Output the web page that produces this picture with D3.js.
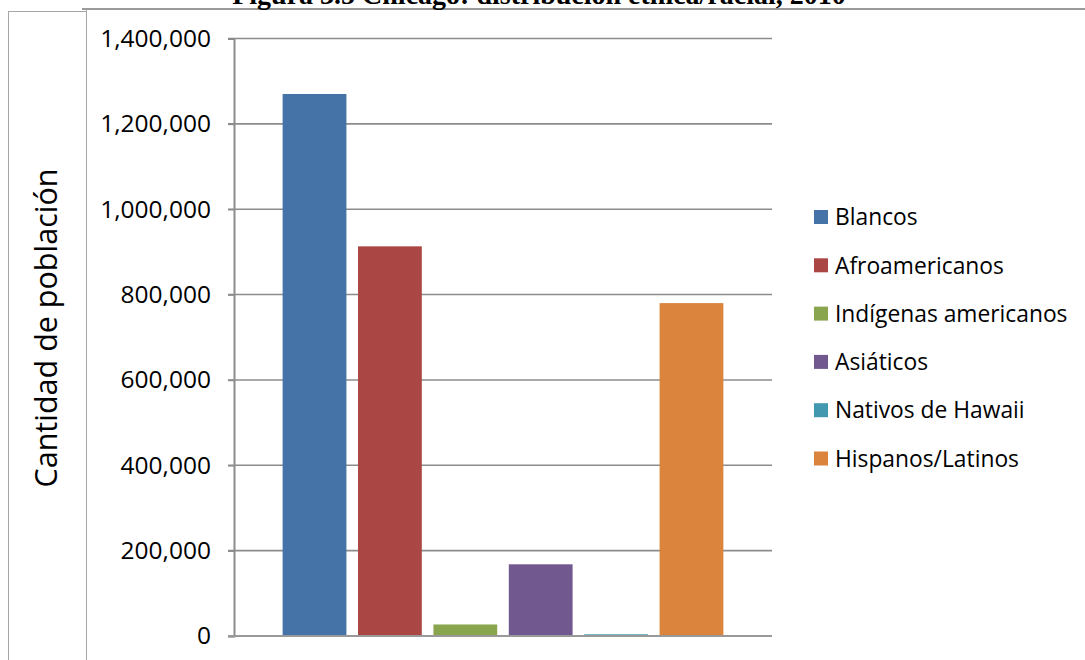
<!DOCTYPE html>
<html>
<head>
<meta charset="utf-8">
<script src="https://cdn.jsdelivr.net/npm/d3@7"></script>
<style>
  html, body { margin: 0; padding: 0; background: #fff; }
  svg { display: block; }
</style>
</head>
<body>
<svg id="chart" width="1085" height="660"></svg>
<script>
// Chicago population by ethnic/racial group, 2010
const categories = ["Blancos", "Afroamericanos", "Indígenas americanos", "Asiáticos", "Nativos de Hawaii", "Hispanos/Latinos"];
const values = [1270000, 913000, 27000, 168000, 4000, 780000];
const colors = ["#4572a7", "#aa4643", "#89a54e", "#71588f", "#4198af", "#db843d"];
const yTicks = [0, 200000, 400000, 600000, 800000, 1000000, 1200000, 1400000];
const titleText = "Figura 3.5 Chicago: distribución étnica/racial, 2010";
const yTitle = "Cantidad de población";

const svg = d3.select("#chart");
const W = 1085, H = 660;
const sans = "'Open Sans', Lato, sans-serif";

// Table-cell frame around the chart
const frame = svg.append("g").attr("stroke", "#a6a6a6").attr("fill", "none");
frame.append("line").attr("x1", 82).attr("x2", W).attr("y1", 9).attr("y2", 9).attr("stroke-width", 2).attr("stroke", "#9a9a9a");
frame.append("line").attr("x1", 8).attr("x2", 86).attr("y1", 11.5).attr("y2", 11.5);
frame.append("line").attr("x1", 8.5).attr("x2", 8.5).attr("y1", 11).attr("y2", H);
frame.append("line").attr("x1", 86.5).attr("x2", 86.5).attr("y1", 9).attr("y2", H);

// Title (only its lower part fits on the page)
svg.append("text")
  .attr("x", 539).attr("y", 4)
  .attr("text-anchor", "middle")
  .attr("font-family", "'Liberation Serif', 'Times New Roman', serif")
  .attr("font-weight", "bold")
  .attr("font-size", 28)
  .text(titleText);

// Scales
const x = d3.scaleBand()
  .domain(categories)
  .range([234, 772])
  .paddingInner(0.154)
  .paddingOuter(0.645);

const y = d3.scaleLinear()
  .domain([0, 1400000])
  .range([636, 38.5]);

// Gridlines
svg.append("g")
  .selectAll("line")
  .data(yTicks.filter(d => d > 0))
  .join("line")
  .attr("x1", 228).attr("x2", 772)
  .attr("y1", d => y(d)).attr("y2", d => y(d))
  .attr("stroke", "#8c8c8c")
  .attr("stroke-width", 1.6);

// Y axis with labels
const yAxis = svg.append("g")
  .attr("transform", "translate(234,0)")
  .call(d3.axisLeft(y).tickValues(yTicks).tickFormat(d3.format(",")).tickSize(6).tickPadding(17));
yAxis.select(".domain").attr("stroke", "#8c8c8c").attr("stroke-width", 2);
yAxis.selectAll(".tick line").attr("stroke", "#8c8c8c").attr("stroke-width", 1.6);
yAxis.selectAll(".tick text")
  .attr("font-family", sans)
  .attr("font-size", 24.5)
  .attr("fill", "#000");

// Bars
svg.append("g")
  .selectAll("rect")
  .data(categories)
  .join("rect")
  .attr("x", d => x(d))
  .attr("width", x.bandwidth())
  .attr("y", (d, i) => y(values[i]))
  .attr("height", (d, i) => y(0) - y(values[i]))
  .attr("fill", (d, i) => colors[i]);

// Baseline
svg.append("line")
  .attr("x1", 228).attr("x2", 772)
  .attr("y1", y(0)).attr("y2", y(0))
  .attr("stroke", "#999")
  .attr("stroke-width", 2);

// Y axis title
svg.append("text")
  .attr("transform", "translate(57,328) rotate(-90)")
  .attr("text-anchor", "middle")
  .attr("font-family", sans)
  .attr("font-size", 30.5)
  .attr("fill", "#000")
  .text(yTitle);

// Legend
const legend = svg.append("g")
  .selectAll("g")
  .data(categories)
  .join("g")
  .attr("transform", (d, i) => `translate(814,${217 + i * 48.3})`);
legend.append("rect")
  .attr("x", 0).attr("y", -7)
  .attr("width", 14).attr("height", 14)
  .attr("fill", (d, i) => colors[i]);
legend.append("text")
  .attr("x", 21).attr("y", 0)
  .attr("dy", "0.36em")
  .attr("font-family", sans)
  .attr("font-size", 22.8)
  .attr("fill", "#000")
  .text(d => d);
</script>
</body>
</html>
